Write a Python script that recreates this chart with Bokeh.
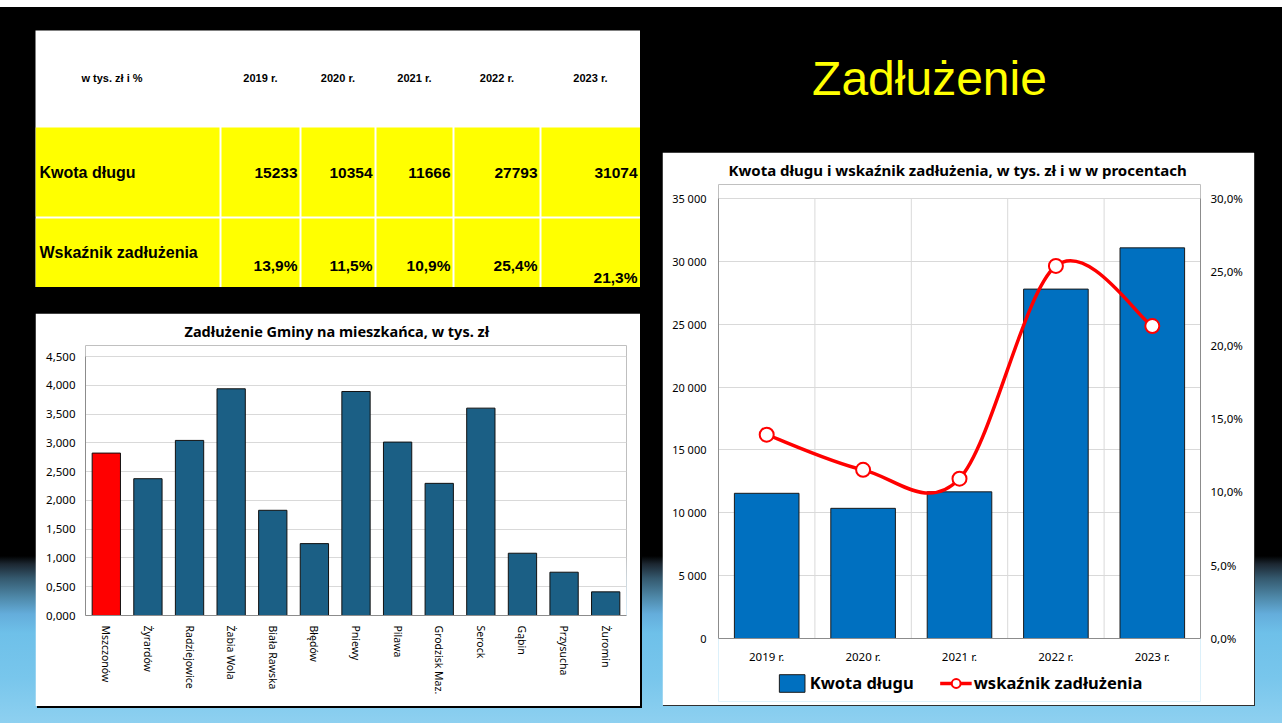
import math
from bokeh.plotting import figure
from bokeh.models import (Range1d, LinearAxis, FixedTicker, Legend, LegendItem,
                          Spacer, FactorRange)
from bokeh.layouts import row, column
from bokeh.core.properties import value
from bokeh.embed import file_html
from bokeh.resources import INLINE

# ---------------- data ----------------
slide_title = "Zadłużenie"

table_corner = "w tys. zł  i %"
years = ["2019 r.", "2020 r.", "2021 r.", "2022 r.", "2023 r."]
row_names = ["Kwota długu", "Wskaźnik zadłużenia"]
table_debt = [15233, 10354, 11666, 27793, 31074]
table_ratio = ["13,9%", "11,5%", "10,9%", "25,4%", "21,3%"]

combo_title = "Kwota długu  i wskaźnik zadłużenia, w tys. zł i w w procentach"
debt_values = [11550, 10354, 11666, 27793, 31074]
ratio_values = [13.9, 11.5, 10.9, 25.4, 21.3]
debt_ticks = [0, 5000, 10000, 15000, 20000, 25000, 30000, 35000]
debt_tick_labels = ["0", "5 000", "10 000", "15 000", "20 000", "25 000", "30 000", "35 000"]
ratio_ticks = [0, 5, 10, 15, 20, 25, 30]
ratio_tick_labels = ["0,0%", "5,0%", "10,0%", "15,0%", "20,0%", "25,0%", "30,0%"]
legend_labels = ["Kwota długu", "wskaźnik zadłużenia"]

bar_title = "Zadłużenie Gminy  na mieszkańca, w tys. zł"
gminy = ["Mszczonów", "Żyrardów", "Radziejowice", "Żabia Wola", "Biała Rawska", "Błędów",
         "Pniewy", "Pilawa", "Grodzisk Maz.", "Serock", "Gąbin", "Przysucha", "Żuromin"]
per_capita = [2.822, 2.377, 3.042, 3.939, 1.828, 1.249, 3.892, 3.013, 2.296, 3.603, 1.082, 0.752, 0.411]
highlight = "Mszczonów"
pc_ticks = [0, 0.5, 1.0, 1.5, 2.0, 2.5, 3.0, 3.5, 4.0, 4.5]
pc_tick_labels = ["0,000", "0,500", "1,000", "1,500", "2,000", "2,500", "3,000", "3,500", "4,000", "4,500"]

# ---------------- styles ----------------
CHART_FONT = "Noto Sans"
TABLE_FONT = "Liberation Sans"
YELLOW = "#FFFF00"
BAR_DARK = "#1B5F85"
BAR_BLUE = "#0070C0"
GRID = "#D9D9D9"
AXIS = "#8C8C8C"


def clean(p):
    p.toolbar_location = None
    p.outline_line_color = None


def style_axis(ax, size, standoff):
    ax.axis_line_color = AXIS
    ax.major_tick_line_color = None
    ax.minor_tick_line_color = None
    ax.major_tick_out = 0
    ax.minor_tick_out = 0
    ax.major_tick_in = 0
    ax.minor_tick_in = 0
    ax.major_label_text_font = CHART_FONT
    ax.major_label_text_color = "black"
    ax.major_label_text_font_size = size
    ax.major_label_standoff = standoff


# ---------------- table ----------------
TW, TH = 605, 257
col_edges = [0, 185, 265, 340, 418, 505, 605]
row_edges = [0, 97, 187, 257]
t = figure(width=TW, height=TH, x_range=Range1d(0, TW), y_range=Range1d(TH, 0),
           toolbar_location=None, output_backend="svg", min_border=0)
t.axis.visible = False
t.grid.visible = False
clean(t)
t.background_fill_color = "white"
t.border_fill_color = "white"

lefts, rights, tops, bottoms = [], [], [], []
for r in (1, 2):
    for c in range(len(col_edges) - 1):
        lefts.append(col_edges[c] + (1 if c > 0 else 0))
        rights.append(col_edges[c + 1] - (1 if c < len(col_edges) - 2 else 0))
        tops.append(row_edges[r] + (1 if r > 1 else 0))
        bottoms.append(row_edges[r + 1] - (1 if r < 2 else 0))
t.quad(left=lefts, right=rights, top=tops, bottom=bottoms, fill_color=YELLOW, line_color=None)

centers = [(col_edges[i] + col_edges[i + 1]) / 2 for i in range(len(col_edges) - 1)]
centers[0] = 78
t.text(x=centers, y=[47] * 6, text=[table_corner] + years, text_align="center",
       text_baseline="middle", text_font=value(TABLE_FONT), text_font_style="bold",
       text_font_size="11px", text_color="black")
t.text(x=[4, 4], y=[142, 222], text=row_names, text_align="left", text_baseline="middle",
       text_font=value(TABLE_FONT), text_font_style="bold", text_font_size="16px",
       text_color="black")
val_x = [e - 3 for e in col_edges[2:]]
t.text(x=val_x, y=[142] * 5, text=[str(v) for v in table_debt], text_align="right",
       text_baseline="middle", text_font=value(TABLE_FONT), text_font_style="bold",
       text_font_size="15.5px", text_color="black")
t.text(x=val_x, y=[235, 235, 235, 235, 247], text=table_ratio, text_align="right",
       text_baseline="middle", text_font=value(TABLE_FONT), text_font_style="bold",
       text_font_size="15.5px", text_color="black")

# ---------------- left bar chart ----------------
# frame geometry (pixels from the chart's top): value axis max at 43, zero at 302
L_H, L_FTOP, L_TOP, L_ZERO = 393, 32, 43, 302
pc_max = pc_ticks[-1]
L_end = pc_max + (L_TOP - L_FTOP) * pc_max / (L_ZERO - L_TOP)
L = figure(width=605, height=L_H, x_range=FactorRange(factors=gminy), y_range=Range1d(0, L_end),
           toolbar_location=None, output_backend="svg", title=bar_title,
           min_border_left=50, min_border_right=14, min_border_top=L_FTOP,
           min_border_bottom=L_H - L_ZERO,
           styles={"box-shadow": "2px 2px 0px #000000"})
clean(L)
L.background_fill_color = "white"
L.border_fill_color = "white"
L.title.align = "left"
L.title.offset = 99
L.title.text_font = CHART_FONT
L.title.text_font_style = "bold"
L.title.text_font_size = "14.5px"
L.title.text_color = "black"
bar_colors = ["#FF0000" if g == highlight else BAR_DARK for g in gminy]
L.vbar(x=gminy, top=per_capita, width=0.68, fill_color=bar_colors, line_color="#111111",
       line_width=1)
L.yaxis.ticker = FixedTicker(ticks=pc_ticks)
L.yaxis.bounds = (0, pc_max)
L.yaxis.major_label_overrides = {k: v for k, v in zip(pc_ticks, pc_tick_labels)}
L.ygrid.ticker = FixedTicker(ticks=pc_ticks)
L.ygrid.grid_line_color = GRID
L.xgrid.grid_line_color = None
style_axis(L.yaxis[0], "11.5px", 10)
style_axis(L.xaxis[0], "10.5px", 10)
L.xaxis.major_label_orientation = -math.pi / 2

# ---------------- right combo chart ----------------
RB_L, RB_R = 56, 54
R_H, R_FTOP, R_TOP, R_ZERO, R_FBOT = 553, 32, 46, 486, 549
xs = list(range(1, len(years) + 1))
debt_max = debt_ticks[-1]
ratio_max = ratio_ticks[-1]
span = R_ZERO - R_TOP
debt_range = Range1d(-(R_FBOT - R_ZERO) * debt_max / span, debt_max + (R_TOP - R_FTOP) * debt_max / span)
ratio_range = Range1d(-(R_FBOT - R_ZERO) * ratio_max / span, ratio_max + (R_TOP - R_FTOP) * ratio_max / span)

R = figure(width=592, height=R_H, x_range=Range1d(0.5, len(years) + 0.5),
           y_range=debt_range, toolbar_location=None, output_backend="svg",
           title=combo_title, min_border_left=RB_L, min_border_right=RB_R,
           min_border_top=R_FTOP, min_border_bottom=R_H - R_FBOT,
           styles={"box-shadow": "1px 1px 0px #303030"})
clean(R)
R.background_fill_color = "white"
R.border_fill_color = "white"
R.title.align = "center"
R.title.text_font = CHART_FONT
R.title.text_font_style = "bold"
R.title.text_font_size = "15px"
R.title.text_color = "black"
R.extra_y_ranges = {"pct": ratio_range}

R.yaxis.ticker = FixedTicker(ticks=debt_ticks)
R.yaxis.bounds = (0, debt_max)
R.yaxis.major_label_overrides = {k: v for k, v in zip(debt_ticks, debt_tick_labels)}
R.ygrid.ticker = FixedTicker(ticks=debt_ticks)
R.ygrid.grid_line_color = GRID
R.xgrid.visible = False
R.xaxis.ticker = FixedTicker(ticks=xs)
R.xaxis.fixed_location = 0
R.xaxis.major_label_overrides = {k: v for k, v in zip(xs, years)}

# category separators (vertical gridlines) from the value axis floor to its top
seps = [x + 0.5 for x in xs[:-1]]
R.segment(x0=seps, y0=[0] * len(seps), x1=seps, y1=[debt_max] * len(seps),
          line_color=GRID, line_width=1)

right_axis = LinearAxis(y_range_name="pct", ticker=FixedTicker(ticks=ratio_ticks),
                        bounds=(0, ratio_max),
                        major_label_overrides={k: v for k, v in zip(ratio_ticks, ratio_tick_labels)})
R.add_layout(right_axis, "right")
style_axis(R.yaxis[0], "11px", 12)
style_axis(right_axis, "11.5px", 10)
style_axis(R.xaxis[0], "11.5px", 10)

bars = R.vbar(x=xs, top=debt_values, width=0.67, fill_color=BAR_BLUE, line_color="#1a1a1a",
              line_width=1)

# smoothed line (Catmull-Rom style Bezier segments through the data points)
n = len(xs)
pts = list(zip(xs, ratio_values))
x0, y0, x1, y1, cx0, cy0, cx1, cy1 = [], [], [], [], [], [], [], []
for i in range(n - 1):
    p_prev = pts[i - 1] if i > 0 else pts[i]
    p0 = pts[i]
    p1 = pts[i + 1]
    p_next = pts[i + 2] if i + 2 < n else pts[i + 1]
    x0.append(p0[0]); y0.append(p0[1]); x1.append(p1[0]); y1.append(p1[1])
    cx0.append(p0[0] + (p1[0] - p_prev[0]) / 6); cy0.append(p0[1] + (p1[1] - p_prev[1]) / 6)
    cx1.append(p1[0] - (p_next[0] - p0[0]) / 6); cy1.append(p1[1] - (p_next[1] - p0[1]) / 6)
curve = R.bezier(x0=x0, y0=y0, x1=x1, y1=y1, cx0=cx0, cy0=cy0, cx1=cx1, cy1=cy1,
                 y_range_name="pct", line_color="#FF0000", line_width=3.5)
markers = R.scatter(x=xs, y=ratio_values, y_range_name="pct", size=14, fill_color="white",
                    line_color="#FF0000", line_width=2)

leg = Legend(items=[LegendItem(label=legend_labels[0], renderers=[bars]),
                    LegendItem(label=legend_labels[1], renderers=[curve, markers])],
             location="bottom_center", orientation="horizontal", glyph_width=32, glyph_height=22,
             label_standoff=2, spacing=26, padding=0, margin=7, border_line_color=None,
             background_fill_alpha=0, label_text_font=CHART_FONT, label_text_font_style="bold",
             label_text_font_size="16.5px", label_text_color="black")
R.add_layout(leg, "center")

# ---------------- slide title ----------------
T = figure(width=592, height=152, x_range=Range1d(RB_L, 592 - RB_R), y_range=Range1d(152, 0),
           toolbar_location=None, output_backend="svg", min_border_left=RB_L,
           min_border_right=RB_R, min_border_top=0, min_border_bottom=0)
T.axis.visible = False
T.grid.visible = False
clean(T)
T.background_fill_alpha = 0
T.border_fill_alpha = 0
T.text(x=[267], y=[78], text=[slide_title], text_align="center", text_baseline="middle",
       text_font=value(TABLE_FONT), text_font_size="48px", text_color=YELLOW)

# ---------------- slide layout ----------------
bg = ("linear-gradient(to bottom, #ffffff 0px, #ffffff 7px, #000000 7px, #000000 556px, "
      "#1c2731 564px, #34586d 578px, #4f8aab 598px, #64addb 614px, #6ec0e9 633px, "
      "#78c6ec 678px, #8ed0f0 723px)")
left_col = column(Spacer(width=605, height=30), row(t), Spacer(width=605, height=26), row(L))
right_col = column(T, R)
root = row(Spacer(width=35, height=723), left_col, Spacer(width=22, height=723), right_col,
           width=1282, height=723, sizing_mode="fixed", styles={"background": bg})

open("out.html", "w").write(file_html(root, INLINE))
